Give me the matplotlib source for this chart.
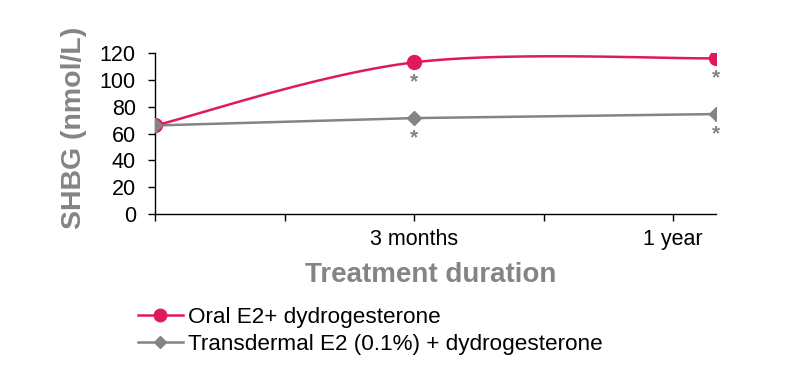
import matplotlib
matplotlib.use("Agg")
import matplotlib.pyplot as plt
import numpy as np

# data
timepoints = ["Baseline", "3 months", "1 year"]
x_pos = [0, 2, 4.33]          # position on the (non-linear) time axis
oral = [66, 113, 116]
transdermal = [66, 71.5, 74.5]
oral_sig = [False, True, True]
trans_sig = [False, True, True]

tick_pos = [0, 1, 2, 3, 4]
tick_labels = ["", "", "3 months", "", "1 year"]

RED = "#DF1A5C"
GREY = "#848484"

plt.rcParams["font.family"] = ["Liberation Sans", "DejaVu Sans"]


def smooth(xs, ys, n=60):
    # Excel-style smoothed line (Catmull-Rom as cubic Bezier)
    p = np.column_stack([xs, ys]).astype(float)
    pts = np.vstack([p[0], p, p[-1]])
    out = []
    t = np.linspace(0, 1, n)[:, None]
    for i in range(1, len(pts) - 2):
        p0, p1, p2, p3 = pts[i - 1], pts[i], pts[i + 1], pts[i + 2]
        c1 = p1 + (p2 - p0) / 6
        c2 = p2 - (p3 - p1) / 6
        seg = ((1 - t) ** 3) * p1 + 3 * t * (1 - t) ** 2 * c1 + 3 * t ** 2 * (1 - t) * c2 + t ** 3 * p2
        out.append(seg)
    out = np.vstack(out)
    return out[:, 0], out[:, 1]


fig = plt.figure(figsize=(8, 3.73), dpi=100)
ax = fig.add_axes([0.194, 0.426, 0.701, 0.432])

# gray line under the red one, gray markers on top (as in the original at baseline)
ax.plot(x_pos, transdermal, color=GREY, lw=1.8, zorder=3)
sx, sy = smooth(x_pos, oral)
ax.plot(sx, sy, color=RED, lw=1.8, zorder=3.5)
ax.plot(x_pos, oral, ls="none", marker="o", ms=10, color=RED, zorder=3.6)
ax.plot(x_pos, transdermal, ls="none", marker="D", ms=7.5, color=GREY, zorder=4)

# legend proxies
h1, = ax.plot([], [], color=RED, lw=1.8, marker="o", ms=9)
h2, = ax.plot([], [], color=GREY, lw=1.8, marker="D", ms=6.5)

for xv, yv, s in zip(x_pos, oral, oral_sig):
    if s:
        ax.annotate("*", (xv, yv), xytext=(0, -14), textcoords="offset points",
                    ha="center", va="center", color=GREY, fontsize=15, fontweight="bold")
for xv, yv, s in zip(x_pos, transdermal, trans_sig):
    if s:
        ax.annotate("*", (xv, yv), xytext=(0, -14), textcoords="offset points",
                    ha="center", va="center", color=GREY, fontsize=15, fontweight="bold")

ax.set_xlim(0, x_pos[-1])
ax.set_ylim(0, 120)
ax.set_yticks(range(0, 121, 20))
ax.set_xticks(tick_pos)
ax.set_xticklabels(tick_labels)
ax.tick_params(axis="both", direction="out", length=5, width=1, labelsize=15.5, colors="black")
ax.tick_params(axis="x", pad=6)
ax.tick_params(axis="y", pad=9)
for s in ["top", "right"]:
    ax.spines[s].set_visible(False)
for s in ["left", "bottom"]:
    ax.spines[s].set_linewidth(1)

ax.set_ylabel("SHBG (nmol/L)", fontsize=20.5, fontweight="bold", color=GREY)
ax.yaxis.set_label_coords(-0.122, 0.534)
ax.set_xlabel("Treatment duration", fontsize=20, fontweight="bold", color=GREY)
ax.xaxis.set_label_coords(0.492, -0.298)

fig.legend([h1, h2], ["Oral E2+ dydrogesterone", "Transdermal E2 (0.1%) + dydrogesterone"],
           loc="upper left", bbox_to_anchor=(0.172, 0.178), frameon=False, fontsize=16.2,
           handlelength=2.0, handletextpad=0.25, borderpad=0, borderaxespad=0,
           labelspacing=0.3)

fig.savefig("out.png", dpi=100)
